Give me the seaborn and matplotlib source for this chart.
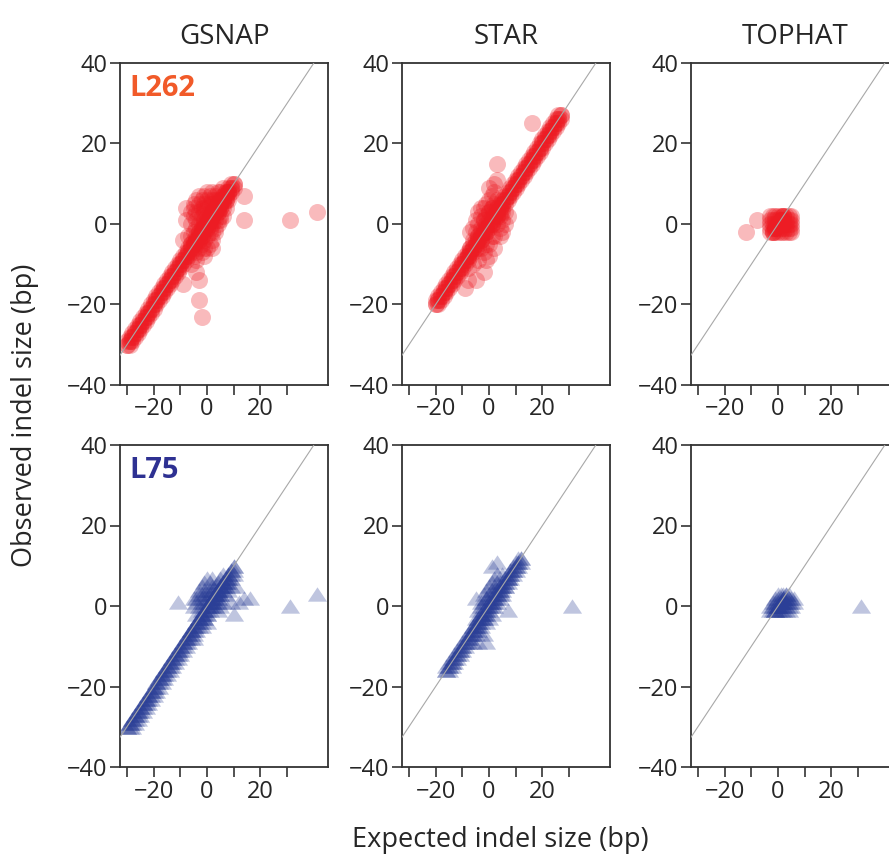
import matplotlib.pyplot as plt
import pandas as pd
import seaborn as sns

# panels
aligners = ["GSNAP", "STAR", "TOPHAT"]
libraries = ["L262", "L75"]

# indels called at exactly the expected size (observed == expected)
gsnap_l262_exact = [
    -30, -29, -28, -27, -26, -25, -24, -23, -22, -21, -20, -19, -18, -17, -16, -15, -14, -13, -12, -11,
    -10, -9, -8, -7, -6, -5, -4, -3, -2, -1, 0, 1, 2, 3, 4, 5, 6, 7, 8, 9, 10,
]
star_l262_exact = [
    -20, -19, -18, -17, -16, -15, -14, -13, -12, -11, -10, -9, -8, -7, -6, -5, -4, -3, -2, -1,
    0, 1, 2, 3, 4, 5, 6, 7, 8, 9, 10, 11, 12, 13, 14, 15, 16, 17, 18, 19, 20, 21, 22, 23, 24, 25, 26, 27,
]
tophat_l262_exact = [-2, -1, 0, 1, 2]
gsnap_l75_exact = [
    -30, -29, -28, -27, -26, -25, -24, -23, -22, -21, -20, -19, -18, -17, -16, -15, -14, -13, -12, -11,
    -10, -9, -8, -7, -6, -5, -4, -3, -2, -1, 0, 1, 2, 3, 4, 5, 6, 7, 8, 9, 10,
]
star_l75_exact = [
    -16, -15, -14, -13, -12, -11, -10, -9, -8, -7, -6, -5, -4, -3, -2, -1,
    0, 1, 2, 3, 4, 5, 6, 7, 8, 9, 10, 11, 12,
]
tophat_l75_exact = [-1, 0, 1, 2, 3]

# all other calls: expected vs observed indel size (bp)
gsnap_l262_expected = [
    -29, -28, -27, -26, -25, -24, -23, -22, -21, -20, -19, -18, -17, -16, -15, -14, -13, -12, -11, -10,
    -9, -8, -7, -6, -5, -4, -3, -2, -1, 0, 1, 2, 3, 4, 5, 6, 7, 8, 9, 10,
    -30, -29, -28, -27, -26, -25, -24, -23, -22, -21, -20, -19, -18, -17, -16, -15, -14, -13, -12, -11,
    -10, -9, -8, -7, -6, -5, -4, -3, -2, -1, 0, 1, 2, 3, 4, 5, 6, 7, 8, 9,
    -6, -5, -4, -3, -2, -1, 0, 1, 2, 3, 4, 5, 6,
    -5, -4, -3, -2, -1, 0, 1, 2, 3, 4, 5, 6, 7, 8,
    -6, -5, -4, -3, -2, -1, 0, 1, 2, 3,
    -4, -3, -2, -1, 0, 1, 2, 3, 0, 1, -1, -2, 5, 6, 4,
    -6, -5, -4, -2, -1, 0, 1, 2, 3, 4, 5, 6, 7,
    -5, -4, -3, -2, -1, 0, 1, 2, 3, 4, 5, 6, 7, 8,
    -3, -2, -1, 0, 1, 2, 3, 4, 5, -1, -3, 2,
    -7, -6, -5, -4, -6,
    -8, -9, -8, -4, -3, -9, -3, -2, 14, 14, 31, 41,
]
gsnap_l262_observed = [
    -30, -29, -28, -27, -26, -25, -24, -23, -22, -21, -20, -19, -18, -17, -16, -15, -14, -13, -12, -11,
    -10, -9, -8, -7, -6, -5, -4, -3, -2, -1, 0, 1, 2, 3, 4, 5, 6, 7, 8, 9,
    -29, -28, -27, -26, -25, -24, -23, -22, -21, -20, -19, -18, -17, -16, -15, -14, -13, -12, -11, -10,
    -9, -8, -7, -6, -5, -4, -3, -2, -1, 0, 1, 2, 3, 4, 5, 6, 7, 8, 9, 10,
    3, 5, 6, 7, 6, 7, 8, 7, 8, 7, 8, 8, 9,
    -2, -4, -6, -7, -8, -6, -5, -4, -2, 0, 1, 2, 4, 6,
    0, 2, 1, 3, 2, 4, 4, 3, 5, 4,
    -1, -2, -3, -4, -3, -2, 0, 1, 2, 1, 1, -1, 4, 6, 3,
    -3, -5, -7, -5, -6, -1, -1, -2, -1, 1, 2, 4, 6,
    4, 3, 5, 4, 3, 6, 5, 6, 6, 6, 6, 7, 8, 8,
    0, 0, -1, 0, 2, 3, 3, 5, 5, 5, -4, -6,
    -3, -5, -8, -9, -10,
    4, -4, 1, -12, -14, -15, -19, -23, 7, 1, 1, 3,
]

star_l262_expected = [
    -19, -18, -17, -16, -15, -14, -13, -12, -11, -10, -9, -8, -7, -6, -5, -4, -3, -2, -1, 0,
    1, 2, 3, 4, 5, 6, 7, 8, 9, 10, 11, 12, 13, 14, 15, 16, 17, 18, 19, 20, 21, 22, 23, 24, 25, 26, 27,
    -20, -19, -18, -17, -16, -15, -14, -13, -12, -11, -10, -9, -8, -7, -6, -5, -4, -3, -2, -1,
    0, 1, 2, 3, 4, 5, 6, 7, 8, 9, 10, 11, 12, 13, 14, 15, 16, 17, 18, 19, 20, 21, 22, 23, 24, 25, 26,
    -5, -4, -3, -2, -1, 0, 1, 2, 3, -6, -4, -2, 0, 2, 4, 5, 6, -3, -1, 1, 3, -2, 0, 1,
    -5, -6, 4, 5, 2, -1, 0, 6, -7, -8, -3, -7, -4, 2, 0, -8, -6,
    -4, -3, -2, -1, 0, 1, 2, 3, 4, -3, -1, 1, 3, 5,
    16, 3, 3, -5, -8, -9, -2, -4, 7,
]
star_l262_observed = [
    -20, -19, -18, -17, -16, -15, -14, -13, -12, -11, -10, -9, -8, -7, -6, -5, -4, -3, -2, -1,
    0, 1, 2, 3, 4, 5, 6, 7, 8, 9, 10, 11, 12, 13, 14, 15, 16, 17, 18, 19, 20, 21, 22, 23, 24, 25, 26,
    -19, -18, -17, -16, -15, -14, -13, -12, -11, -10, -9, -8, -7, -6, -5, -4, -3, -2, -1, 0,
    1, 2, 3, 4, 5, 6, 7, 8, 9, 10, 11, 12, 13, 14, 15, 16, 17, 18, 19, 20, 21, 22, 23, 24, 25, 26, 27,
    -2, 0, 2, 4, 5, 6, 7, 8, 6, -4, -6, -7, -5, -3, -1, 1, 3, -4, -2, 0, 2, 1, 3, 4,
    1, -1, -3, -2, -6, -9, -8, 0, -6, -8, 4, -2, 3, 10, 9, -11, -10,
    -3, -1, 1, 2, 3, 4, 5, 4, 2, -6, -5, -3, 0, 3,
    25, 15, 11, -14, -14, -16, -12, -9, 2,
]

tophat_l262_expected = [
    -3, -2, -1, 0, 1, 2, 3, 4, 5,
    -3, -2, -1, 0, 1, 2, 3, 4, 5,
    -3, -2, -1, 0, 1, 2, 3, 4, 5,
    -3, -2, -1, 0, 1, 2, 3, 4, 5,
    -3, -2, -1, 0, 1, 2, 3, 4, 5,
    -12, -8,
]
tophat_l262_observed = [
    -2, -2, -2, -2, -2, -2, -2, -2, -2,
    -1, -1, -1, -1, -1, -1, -1, -1, -1,
    0, 0, 0, 0, 0, 0, 0, 0, 0,
    1, 1, 1, 1, 1, 1, 1, 1, 1,
    2, 2, 2, 2, 2, 2, 2, 2, 2,
    -2, 1,
]

gsnap_l75_expected = [
    -29, -28, -27, -26, -25, -24, -23, -22, -21, -20, -19, -18, -17, -16, -15, -14, -13, -12, -11, -10,
    -9, -8, -7, -6, -5, -4, -3, -2, -1, 0, 1, 2, 3, 4, 5, 6, 7, 8, 9, 10,
    -28, -27, -26, -25, -24, -23, -22, -21, -20, -19, -18, -17, -16, -15, -14, -13, -12, -11, -10,
    -9, -8, -7, -6, -5, -4, -3, -2, -1, 0, 1, 2, 3, 4, 5, 6, 7, 8, 9, 10,
    -4, -3, -2, -1, 0, 1, 2, 3, 4, 5, 6, -5, -4, -3, -2, -1, 0, 1, 2, 3, 4, 5, 6, 7, 8,
    -3, -2, -1, 0, 1, 2, 3, 4, -1, 0, -2, 5, 6, 7, 8, -4, -5, -6, -5, 9,
    -3, -2, -1, 0, 1, 2, 3, 4, 5, 6, -2, 0, 2, 4,
    -11, 14, 16, 31, 41, 10, 11, 9, 12,
]
gsnap_l75_observed = [
    -30, -29, -28, -27, -26, -25, -24, -23, -22, -21, -20, -19, -18, -17, -16, -15, -14, -13, -12, -11,
    -10, -9, -8, -7, -6, -5, -4, -3, -2, -1, 0, 1, 2, 3, 4, 5, 6, 7, 8, 9,
    -30, -29, -28, -27, -26, -25, -24, -23, -22, -21, -20, -19, -18, -17, -16, -15, -14, -13, -12,
    -11, -10, -9, -8, -7, -6, -5, -4, -3, -2, -1, 0, 1, 2, 3, 4, 5, 6, 7, 8,
    2, 4, 5, 6, 7, 6, 7, 5, 6, 7, 8, 0, -2, -3, -1, 1, 2, 3, 4, 3, 2, 3, 5, 6, 7,
    0, 2, 3, -2, 0, 1, 0, -1, -3, -4, -5, 0, 1, 3, 4, 1, 2, -6, -8, 5,
    3, 3, 4, 4, 4, 5, 4, 4, 5, 6, 1, 1, 2, 1,
    1, 2, 2, 0, 3, -2, 5, 1, 1,
]

star_l75_expected = [
    -15, -14, -13, -12, -11, -10, -9, -8, -7, -6, -5, -4, -3, -2, -1,
    0, 1, 2, 3, 4, 5, 6, 7, 8, 9, 10, 11, 12,
    -16, -15, -14, -13, -12, -11, -10, -9, -8, -7, -6, -5, -4, -3, -2, -1,
    0, 1, 2, 3, 4, 5, 6, 7, 8, 9, 10, 11,
    -4, -3, -2, -1, 0, 1, 2, 3, -5, -3, -1, 1, 2, 3, 4, 5, 6, -2, 0, 1, -1,
    -4, -6, -5, 0, -2, 4, 5, 2, -3, 7, 8, -6,
    -3, -2, -1, 0, 1, 2, 3, 4, -4, -2,
    31, 3, -5, 7, -4, -1, 1,
]
star_l75_observed = [
    -16, -15, -14, -13, -12, -11, -10, -9, -8, -7, -6, -5, -4, -3, -2,
    -1, 0, 1, 2, 3, 4, 5, 6, 7, 8, 9, 10, 11,
    -15, -14, -13, -12, -11, -10, -9, -8, -7, -6, -5, -4, -3, -2, -1, 0,
    1, 2, 3, 4, 5, 6, 7, 8, 9, 10, 11, 12,
    -1, 1, 3, 4, 5, 6, 7, 8, -3, -5, -4, -2, 0, 1, 2, 3, 5, 0, 1, 3, 2,
    -6, -5, -7, -3, -7, 6, 8, 4, -2, 7, 9, -9,
    0, 1, 2, 3, 4, 5, 6, 5, -3, -3,
    0, 11, 2, -1, -9, -9, 10,
]

tophat_l75_expected = [
    -3, -2, -1, 0, 1, 2, 3, 4,
    -3, -2, -1, 0, 1, 2, 3, 4, 5,
    -2, -1, 0, 1, 2, 3, 4, 5, 6,
    -1, 0, 1, 2, 3, 4, 5, 6,
    0, 1, 2, 4,
    31,
]
tophat_l75_observed = [
    -1, -1, -1, -1, -1, -1, -1, -1,
    0, 0, 0, 0, 0, 0, 0, 0, 0,
    1, 1, 1, 1, 1, 1, 1, 1, 1,
    2, 2, 2, 2, 2, 2, 2, 2,
    3, 3, 3, 3,
    0,
]

panel_data = {
    ("L262", "GSNAP"): (gsnap_l262_exact, gsnap_l262_expected, gsnap_l262_observed),
    ("L262", "STAR"): (star_l262_exact, star_l262_expected, star_l262_observed),
    ("L262", "TOPHAT"): (tophat_l262_exact, tophat_l262_expected, tophat_l262_observed),
    ("L75", "GSNAP"): (gsnap_l75_exact, gsnap_l75_expected, gsnap_l75_observed),
    ("L75", "STAR"): (star_l75_exact, star_l75_expected, star_l75_observed),
    ("L75", "TOPHAT"): (tophat_l75_exact, tophat_l75_expected, tophat_l75_observed),
}

frames = []
for (lib, aligner), (exact, exp, obs) in panel_data.items():
    # exact calls are very frequent: two reads per size
    for _ in range(2):
        frames.append(pd.DataFrame(
            {"Library": lib, "Aligner": aligner, "Expected": exact, "Observed": exact}
        ))
    frames.append(pd.DataFrame(
        {"Library": lib, "Aligner": aligner, "Expected": exp, "Observed": obs}
    ))
df = pd.concat(frames, ignore_index=True)

# styling
point_colors = {"L262": "#ED1C24", "L75": "#2B3F97"}
label_colors = {"L262": "#F15A29", "L75": "#2E3192"}
flat_triangle = [(-1, -0.75), (1, -0.75), (0, 0.75)]
markers = {"L262": "o", "L75": flat_triangle}
sizes = {"L262": 150, "L75": 190}

sns.set_style("ticks")
plt.rcParams["font.family"] = ["Open Sans", "DejaVu Sans"]

fig = plt.figure(figsize=(8.89, 8.58), dpi=100)

W, H = 889, 858
col_left = [120, 402, 691]
row_top = [63, 445]
ax_w, ax_h = 208, 322

for i, lib in enumerate(libraries):
    for j, aligner in enumerate(aligners):
        ax = fig.add_axes(
            [col_left[j] / W, 1 - (row_top[i] + ax_h) / H, ax_w / W, ax_h / H]
        )
        sub = df[(df["Library"] == lib) & (df["Aligner"] == aligner)]
        sns.scatterplot(
            data=sub,
            x="Expected",
            y="Observed",
            ax=ax,
            color=point_colors[lib],
            marker=markers[lib],
            s=sizes[lib],
            alpha=0.3,
            linewidth=0,
            legend=False,
        )
        # identity line
        ax.plot([-45, 50], [-45, 50], color="#a8a8a8", lw=0.8, zorder=3)

        ax.set_xlim(-32.6, 45.3)
        ax.set_ylim(-40, 40)
        ax.set_xticks([-20, 0, 20])
        ax.set_xticks([-30, -10, 10, 30], minor=True)
        ax.set_yticks([-40, -20, 0, 20, 40])
        ax.tick_params(
            which="both", direction="out", length=7, width=1.2, color="#333333",
            labelsize=17, pad=2,
        )
        for side in ["left", "right", "top", "bottom"]:
            ax.spines[side].set_visible(True)
            ax.spines[side].set_linewidth(1.3)
            ax.spines[side].set_color("#333333")
        ax.set_xlabel("")
        ax.set_ylabel("")

        if i == 0:
            ax.set_title(aligner, fontsize=20, pad=14)
        if j == 0:
            ax.text(
                0.045, 0.92, lib, transform=ax.transAxes, color=label_colors[lib],
                fontsize=21, fontweight="bold", va="center", ha="left",
            )

fig.text(500 / W, 1 - 840 / H, "Expected indel size (bp)", ha="center", va="center",
         fontsize=19.5)
fig.text(25 / W, 1 - 415 / H, "Observed indel size (bp)", ha="center", va="center",
         rotation=90, fontsize=19.5)

plt.savefig("out.png", dpi=100)
plt.close()
